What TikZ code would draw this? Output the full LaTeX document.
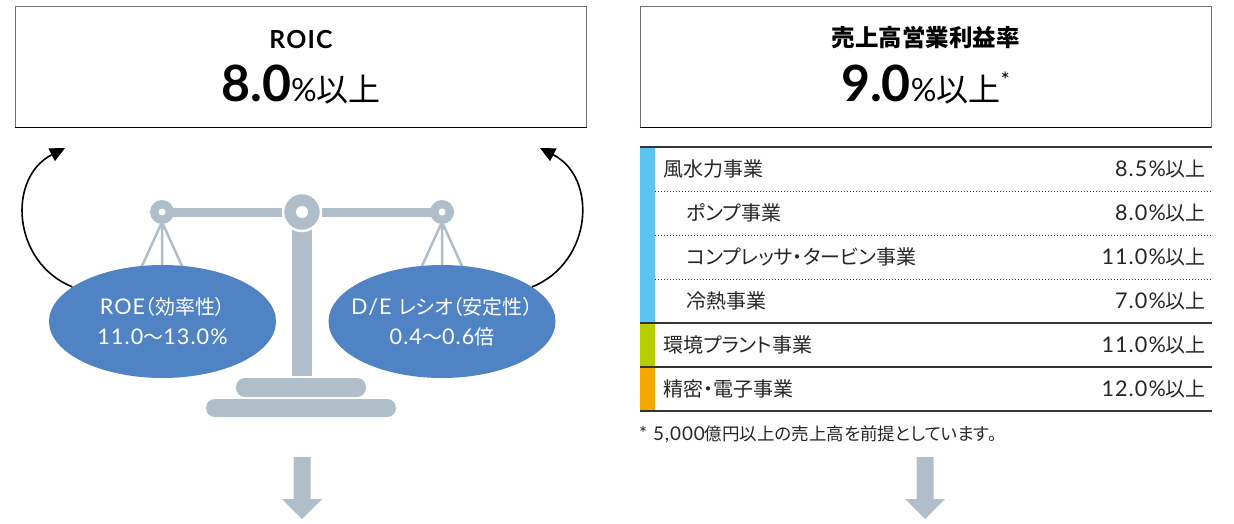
\documentclass[tikz,border=0pt]{standalone}
\usepackage{fontspec}
\setmainfont{Lato}[Scale=1.08, LetterSpace=5]
\newfontfamily\numfont{Lato}
\newfontfamily\jp{Noto Sans CJK JP}[RawFeature=+palt]
\usetikzlibrary{arrows.meta,shapes.geometric}
\definecolor{scalegray}{HTML}{B0BEC9}
\definecolor{ellblue}{HTML}{5083C4}
\definecolor{barblue}{HTML}{5BC4F1}
\definecolor{bargreen}{HTML}{B7CF00}
\definecolor{barorange}{HTML}{F5A800}
\definecolor{rulegray}{HTML}{333333}
\begin{document}
\begin{tikzpicture}[x=1pt,y=-1pt,
  goalbox/.style={draw=black!55, line width=0.8, minimum width=571, minimum height=121},
  weightpan/.style={ellipse, fill=ellblue, inner sep=0, minimum width=227, minimum height=113},
  pantext/.style={text=white, align=center, font=\fontsize{20}{30}\selectfont},
  rowtext/.style={inner sep=0, font=\fontsize{20}{24}\selectfont, text=black!85},
  turnarrow/.style={-{Triangle[length=15pt,width=14pt]}, line width=1.6}]
\useasboundingbox (0,0) rectangle (1234,524);
\node[goalbox] (roic) at (301,66.5) {};
\draw[line width=1.3] (roic.south west) -- (roic.south east);
\node[anchor=base, font=\fontsize{23}{23}\selectfont\bfseries] (roictitle) at (301,48.5) {ROIC};
\node[anchor=base] (roicval) at (301,102) {{\fontsize{50}{50}\selectfont\numfont\bfseries 8.0}{\fontsize{32}{32}\selectfont\numfont\%{\jp 以上}}};
\node[goalbox] (margin) at (925.5,66.5) {};
\draw[line width=1.3] (margin.south west) -- (margin.south east);
\node[anchor=base, font=\fontsize{23.5}{23.5}\selectfont\jp\bfseries] (margintitle) at (925.5,47) {売上高営業利益率};
\node[anchor=base] (marginval) at (925.5,102) {{\fontsize{50}{50}\selectfont\numfont\bfseries 9.0}{\fontsize{32}{32}\selectfont\numfont\%{\jp 以上}}{\fontsize{22}{22}\selectfont\numfont\raisebox{13pt}{*}}};
\draw[scalegray, line width=9] (162,212) -- (442,212);
\foreach \px in {162,442}{
  \draw[scalegray, line width=2.5] (\px,222) -- (\px-20,266) (\px,222) -- (\px,266) (\px,222) -- (\px+20,266);
  \fill[scalegray] (\px,212) circle[radius=12];
  \fill[white] (\px,212) circle[radius=3.5];
}
\fill[scalegray] (292,228) rectangle (312,376);
\draw[white, line width=2.5, fill=scalegray] (302,212) circle[radius=19];
\fill[white] (302,212) circle[radius=6];
\fill[scalegray, rounded corners=9] (236,378) rectangle (366,397);
\fill[scalegray, rounded corners=9] (206,399) rectangle (396,417);
\node[weightpan] (roe) at (162.5,321.5) {};
\node[pantext] (roetext) at (roe) {ROE{\jp（効率性）}\\11.0{\jp 〜}13.0\%};
\node[weightpan] (de) at (442,321.5) {};
\node[pantext] (detext) at (de) {D/E {\jp レシオ（安定性）}\\0.4{\jp 〜}0.6{\jp 倍}};
\coordinate (roicL) at (65,148);
\coordinate (roicR) at (540,148);
\draw[turnarrow] (roe.159) to[out=158, in=207, looseness=1.2] (roicL);
\draw[turnarrow] (de.21) to[out=22, in=-27, looseness=1.2] (roicR);
\fill[barblue] (640,147) rectangle (655,323);
\fill[bargreen] (640,323) rectangle (655,367);
\fill[barorange] (640,367) rectangle (655,411);
\foreach \ry in {191,235,279}
  \draw[rulegray, line width=0.8, dash pattern=on 1pt off 2pt] (655,\ry) -- (1212,\ry);
\foreach \ry in {147,323,367,411}
  \draw[rulegray, line width=1.1] (640,\ry) -- (1212,\ry);
\node[rowtext, anchor=west] (fusui) at (663,169) {\jp 風水力事業};
\node[rowtext, anchor=east] (fusuival) at (1206,169) {8.5\%{\jp 以上}};
\node[rowtext, anchor=west] (pump) at (686,213) {\jp ポンプ事業};
\node[rowtext, anchor=east] (pumpval) at (1206,213) {8.0\%{\jp 以上}};
\node[rowtext, anchor=west] (comp) at (686,257) {\jp コンプレッサ・タービン事業};
\node[rowtext, anchor=east] (compval) at (1206,257) {11.0\%{\jp 以上}};
\node[rowtext, anchor=west] (reinetsu) at (686,301) {\jp 冷熱事業};
\node[rowtext, anchor=east] (reinetsuval) at (1206,301) {7.0\%{\jp 以上}};
\node[rowtext, anchor=west] (kankyo) at (663,345) {\jp 環境プラント事業};
\node[rowtext, anchor=east] (kankyoval) at (1206,345) {11.0\%{\jp 以上}};
\node[rowtext, anchor=west] (seimitsu) at (663,389) {\jp 精密・電子事業};
\node[rowtext, anchor=east] (seimitsuval) at (1206,389) {12.0\%{\jp 以上}};
\node[rowtext, anchor=west, font=\fontsize{17.5}{20}\selectfont] (note) at (639,434) {* 5,000{\jp 億円以上の売上高を前提としています。}};
\foreach \ax in {302,925}
  \fill[scalegray] (\ax-8.5,457) -- (\ax+8.5,457) -- (\ax+8.5,499) -- (\ax+20,499) -- (\ax,519) -- (\ax-20,499) -- (\ax-8.5,499) -- cycle;
\end{tikzpicture}
\end{document}
